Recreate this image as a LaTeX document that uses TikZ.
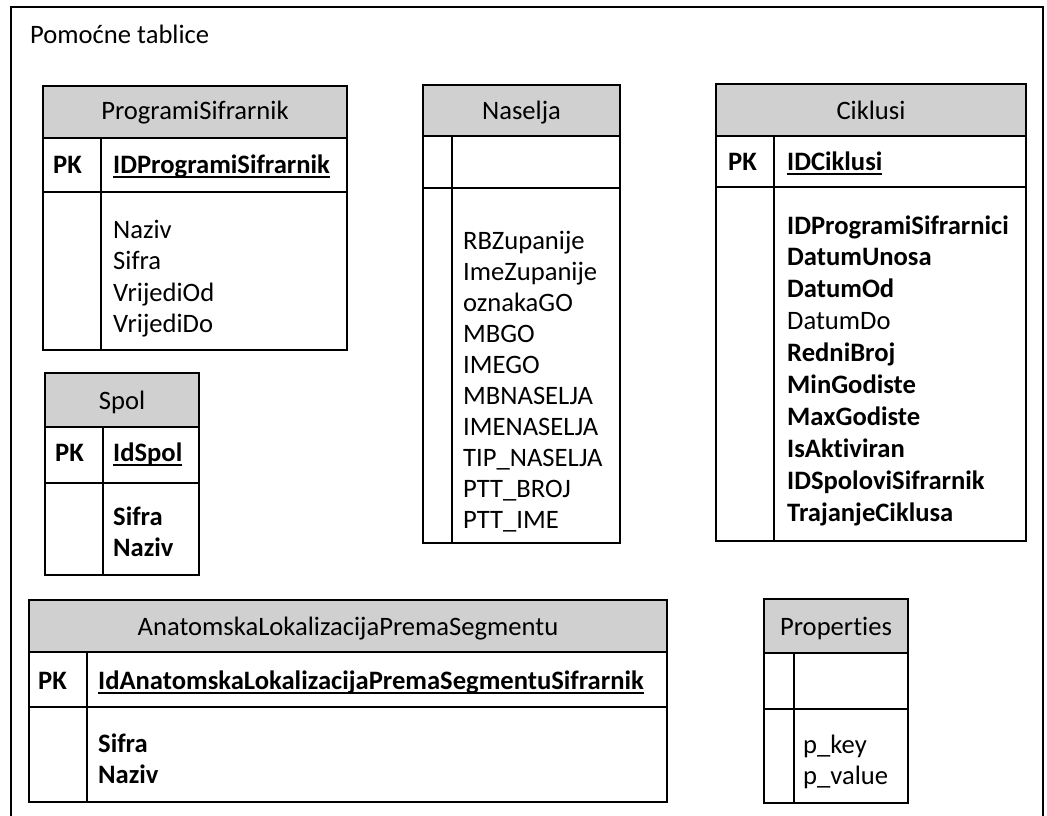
\documentclass[tikz,border=0pt]{standalone}
\usepackage{fontspec}
\setmainfont{Carlito}[Ligatures={NoCommon}]
\definecolor{hdrgray}{RGB}{208,208,208}
% one ER table: left, right, top, header bottom, key row bottom, bottom, key column divider
\newcommand\ertable[7]{%
  \fill[hdrgray] (#1,#3) rectangle (#2,#4);
  \draw[tbl] (#1,#3) rectangle (#2,#6);
  \draw[tbl] (#1,#4) -- (#2,#4) (#1,#5) -- (#2,#5) (#7,#4) -- (#7,#6);
}
% primary key name, underlined with a firm rule
\newcommand\keyline[1]{\setbox0\hbox{#1}\rlap{\rule[-4.5pt]{\wd0}{1.9pt}}\box0}
\begin{document}
\begin{tikzpicture}[x=1pt,y=-1pt,
  tbl/.style={line width=1.6pt},
  txt/.style={inner sep=0pt,font=\fontsize{26.6}{32}\selectfont},
  hdr/.style={txt,anchor=base},
  fld/.style={txt,anchor=base west},
  key/.style={txt,anchor=base west,font=\fontsize{26.6}{32}\selectfont\bfseries}]
\useasboundingbox (0,0) rectangle (1047,816);
\fill[white] (0,0) rectangle (1047,816);

% outer frame, open at the bottom
\draw[line width=2.4pt] (11,816) -- (11,7) -- (1043,7) -- (1043,816);
\node[fld] (title) at (30,44) {Pomoćne tablice};

% ProgramiSifrarnik
\ertable{43}{347}{86}{138}{192}{350}{101}
\node[hdr] (ps-h) at (195,119) {ProgramiSifrarnik};
\node[key] (ps-pk) at (53,173) {PK};
\node[key] (ps-id) at (113,173) {\keyline{IDProgramiSifrarnik}};
\foreach [count=\i] \t in {Naziv,Sifra,VrijediOd,VrijediDo}
  \node[fld] (ps-f\i) at ({113},{238+31.6*(\i-1)}) {\t};

% Spol
\ertable{45}{199}{373}{427}{483}{575}{103}
\node[hdr] (sp-h) at (122,409) {Spol};
\node[key] (sp-pk) at (55,461) {PK};
\node[key] (sp-id) at (113,461) {\keyline{IdSpol}};
\node[key] (sp-f1) at (113,525) {Sifra};
\node[key] (sp-f2) at (113,556) {Naziv};

% Naselja
\ertable{423}{620}{85}{136}{188}{543}{452}
\node[hdr] (na-h) at (521.5,119) {Naselja};
\foreach [count=\i] \t in {RBZupanije,ImeZupanije,oznakaGO,MBGO,IMEGO,MBNASELJA,IMENASELJA,TIP\_NASELJA,PTT\_BROJ,PTT\_IME}
  \node[fld] (na-f\i) at ({463},{249+31*(\i-1)}) {\t};

% Ciklusi
\ertable{716}{1026}{84}{136}{187}{541}{774}
\node[hdr] (ci-h) at (871,119) {Ciklusi};
\node[key] (ci-pk) at (728,170) {PK};
\node[key] (ci-id) at (787,170) {\keyline{IDCiklusi}};
\foreach [count=\i] \t in {\bfseries IDProgramiSifrarnici,\bfseries DatumUnosa,\bfseries DatumOd,DatumDo,\bfseries RedniBroj,\bfseries MinGodiste,\bfseries MaxGodiste,\bfseries IsAktiviran,\bfseries IDSpoloviSifrarnik,\bfseries TrajanjeCiklusa}
  \node[fld] (ci-f\i) at ({787},{234+31.9*(\i-1)}) {\t};

% AnatomskaLokalizacijaPremaSegmentu
\ertable{29}{667}{600}{652}{707}{802}{87}
\node[hdr] (an-h) at (348,635) {AnatomskaLokalizacijaPremaSegmentu};
\node[key] (an-pk) at (38,689) {PK};
\node[key] (an-id) at (98,689) {\keyline{IdAnatomskaLokalizacijaPremaSegmentuSifrarnik}};
\node[key] (an-f1) at (98,752) {Sifra};
\node[key] (an-f2) at (98,783) {Naziv};

% Properties
\ertable{764}{908}{599}{653}{709}{803}{794}
\node[hdr] (pr-h) at (836,635) {Properties};
\node[fld] (pr-f1) at (803,753) {p\_key};
\node[fld] (pr-f2) at (803,784) {p\_value};
\end{tikzpicture}
\end{document}
